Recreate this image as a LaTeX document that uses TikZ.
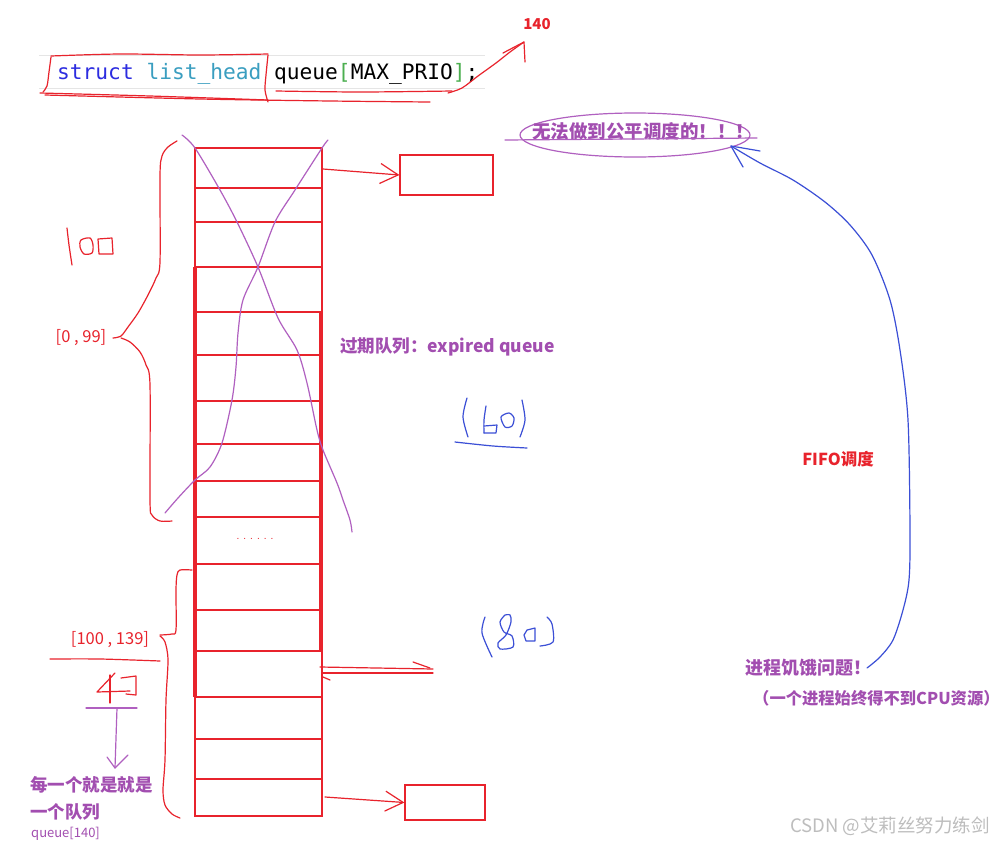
\documentclass[tikz,border=0pt]{standalone}
\usepackage{fontspec}
\setmainfont{Liberation Sans}
\newfontfamily\cjk{Noto Sans CJK SC}
\newfontfamily\codefont{DejaVu Sans Mono}
\usetikzlibrary{arrows.meta}
\definecolor{hred}{HTML}{E8232C}
\definecolor{hpurple}{HTML}{A24EB0}
\definecolor{xpurple}{HTML}{B060C0}
\definecolor{hblue}{HTML}{3B4FD6}
\definecolor{codeblue}{HTML}{2D2DE0}
\definecolor{codeteal}{HTML}{3A9EC0}
\definecolor{codegreen}{HTML}{4CAF50}
\definecolor{wm}{HTML}{BDBDBD}
\begin{document}
\begin{tikzpicture}[x=1pt,y=-1pt,
  pen/.style={hred,line width=1.2pt,line cap=round,line join=round},
  thickpen/.style={hred,line width=3.2pt},
  ppen/.style={xpurple,line width=1.2pt,line cap=round,line join=round},
  bpen/.style={hblue,line width=1.2pt,line cap=round,line join=round},
  ptext/.style={text=hpurple,font=\cjk\bfseries\fontsize{17.5}{20}\selectfont,inner sep=0pt},
  rtext/.style={text=hred,font=\cjk\fontsize{16.5}{19}\selectfont,inner sep=0pt},
  barb/.style={-{Straight Barb[length=18pt,width=20pt,line width=1.2pt]}},
  boxstyle/.style={draw=hred,line width=1.2pt,minimum width=0pt,inner sep=0pt}
]
\useasboundingbox[fill=white] (0,0) rectangle (1005,844);

% code line
\draw[gray!20,line width=1pt] (39,55) -- (485,55);
\draw[gray!20,line width=1pt] (39,88) -- (485,88);
\node[anchor=base west,inner sep=0pt,font=\codefont\fontsize{21.2}{23}\selectfont] (code) at (57,79)
  {\textcolor{codeblue}{struct} \textcolor{codeteal}{list\_head} queue\textcolor{codegreen}{[}MAX\_PRIO\textcolor{codegreen}{]};};
% scribble around struct list_head
\draw[pen] plot[smooth] coordinates {(51,56) (120,54) (200,55) (268,54)};
\draw[pen] plot[smooth] coordinates {(51,57) (49,72) (47,86) (43,92)};
\draw[pen] plot[smooth] coordinates {(40,93) (150,96) (268,100)};
\draw[pen] plot[smooth] coordinates {(268,55) (266,75) (265,90) (268,102)};
\draw[pen] plot[smooth] coordinates {(45,95) (200,99) (330,101) (430,102)};
\draw[pen] plot[smooth] coordinates {(276,91) (360,92) (452,91)};
\coordinate (t140) at (524,42);
\draw[pen] plot[smooth] coordinates {(448,93) (462,88) (478,76) (496,63) (510,52) (524,42)};
\draw[pen] (503,53) -- (524,42) -- (525,62);
\node[rtext,font=\cjk\bfseries\fontsize{15}{18}\selectfont] (n140) at (537,24) {140};

% table
\coordinate (tl) at (195,148);
\coordinate (br) at (322,816);
\draw[hred,line width=1.2pt] (tl) rectangle (br);
\foreach \yy in {188,222,267,312,355,401,444,481,517,564,610,651,697,739,779}
  \draw[hred,line width=1.2pt] (195,\yy) -- (322,\yy);
\draw[thickpen] (195,267) -- (195,697);
\draw[thickpen] (321,312) -- (321,651);
\node[text=hred,font=\fontsize{10}{10}\selectfont] (dots) at (255,539) {.\hspace{4pt}.\hspace{4pt}.\hspace{4pt}.\hspace{4pt}.\hspace{4pt}.};

% purple X
\draw[ppen] plot[smooth] coordinates {(182,135) (195,148) (220,190) (237,222) (258,267) (278,318) (297,350) (307,383) (317,430) (323,450) (337,483) (343,500) (350,520) (352,532)};
\draw[ppen] plot[smooth] coordinates {(328,140) (322,148) (295,190) (275,222) (258,267) (243,300) (238,333) (236,367) (232,400) (222,443) (210,467) (195,480) (178,498) (165,513)};

% boxes and arrows
\node[boxstyle,minimum width=93pt,minimum height=40pt] (box1) at (446.5,175) {};
\node[boxstyle,minimum width=80pt,minimum height=35pt] (box2) at (445,802.5) {};
\coordinate (r1) at (323,169);
\coordinate (r2) at (325,797);
\draw[pen,barb] (r1) -- (box1.west);
\draw[pen,barb] (r2) -- (box2.west);

% middle double line
\draw[pen] (320,667) -- (433,669);
\draw[pen] (322,673) -- (433,673);
\draw[pen] (413,662) -- (430,668);
\draw[pen] (323,677) -- (330,680);

% upper brace
\draw[pen] plot[smooth] coordinates {(177,141) (168,147) (162,156) (160,175) (160,262) (156,278) (148,295) (138,313) (128,327) (121,336) (113,338)};
\draw[pen] plot[smooth] coordinates {(121,338) (130,342) (140,352) (146,365) (150,385) (150,500) (152,515) (160,521) (172,521)};
\node[rtext] (l099) at (81,338) {[0 , 99]};
% "100" handwritten
\draw[pen] plot[smooth] coordinates {(67,228) (69,245) (72,265)};
\draw[pen] plot[smooth cycle] coordinates {(81,240) (90,238) (93,245) (92,253) (84,254) (80,247)};
\draw[pen] (98,239) -- (112,238) -- (113,254) -- (99,254) -- cycle;

% lower brace
\draw[pen] plot[smooth] coordinates {(192,570) (180,570) (177,575) (176,590) (176,630) (172,634) (160,635)};
\draw[pen] plot[smooth] coordinates {(160,636) (165,642) (168,660) (166,700) (165,760) (163,790) (165,805) (172,814) (180,818)};
\node[rtext] (l100) at (110,640) {[100 , 139]};
\draw[pen] plot[smooth] coordinates {(50,659) (100,659) (160,661)};
% "40"
\draw[pen] (115,673) -- (97,692) -- (130,691);
\draw[pen] (110,675) -- (110,703);
\draw[pen] (121,678) -- (136,676) -- (136,695) -- (126,694);
% purple T arrow
\coordinate (tt) at (117,708);
\coordinate (tb) at (115,768);
\draw[ppen] (86,708) -- (137,708);
\draw[ppen] (tt) -- (tb);
\draw[ppen] (107,757) -- (tb) -- (128,755);
\node[ptext,anchor=west] (each1) at (30,785) {每一个就是就是};
\node[ptext,anchor=west] (each2) at (30,812) {一个队列};
\node[text=hpurple,font=\cjk\fontsize{13}{15}\selectfont,inner sep=0pt,anchor=west] (q140) at (31,834) {queue[140]};

% expired queue label
\node[ptext,anchor=west] (exp) at (340,347) {过期队列：expired queue};

% (60)
\draw[bpen] plot[smooth] coordinates {(467,398) (463,417) (468,437)};
\draw[bpen] plot[smooth] coordinates {(486,406) (484,420) (484,433)};
\draw[bpen] (484,426) -- (497,425) -- (496,433) -- (484,433);
\draw[bpen] plot[smooth cycle] coordinates {(501,417) (509,413) (514,418) (512,426) (505,427)};
\draw[bpen] plot[smooth] coordinates {(522,400) (525,420) (520,437)};
\draw[bpen] plot[smooth] coordinates {(455,442) (493,446) (527,448)};
% (80)
\draw[bpen] plot[smooth] coordinates {(485,617) (482,633) (492,657)};
\draw[bpen] plot[smooth] coordinates {(505,615) (500,622) (504,632) (512,636) (513,647) (500,649) (498,643) (506,635) (511,622) (510,615) (505,615)};
\draw[bpen] (527,630) -- (535,628) -- (535,641) -- (526,641) -- (524,635) -- cycle;
\draw[bpen] plot[smooth] coordinates {(547,617) (552,624) (553,642) (540,646)};

% ellipse
\draw[ppen] (635,135) ellipse [x radius=115, y radius=22];
\node[ptext,font=\cjk\bfseries\fontsize{18.5}{21}\selectfont] (fair) at (643,131) {无法做到公平调度的！！！};
\draw[ppen] (505,140) -- (757,138);

% blue curve
\coordinate (ftip) at (731,146);
\coordinate (fstart) at (867,668);
\draw[bpen] plot[smooth] coordinates {(fstart) (880,657) (893,640) (903,610) (909,580) (910,530) (908,420) (900,350) (890,300) (872,255) (850,225) (825,202) (793,180) (760,163) (ftip)};
\draw[bpen] (760,151) -- (ftip) -- (743,167);
\node[rtext,font=\cjk\bfseries\fontsize{16.5}{19}\selectfont] (fifo) at (838,459) {FIFO调度};
\node[ptext,font=\cjk\bfseries\fontsize{18}{20}\selectfont,anchor=west] (starve) at (745,668) {进程饥饿问题！};
\node[ptext,font=\cjk\bfseries\fontsize{16.3}{19}\selectfont,anchor=west] (starve2) at (753,698) {（一个进程始终得不到CPU资源）};

% watermark
\node[text=wm,font=\cjk\fontsize{18.5}{21}\selectfont,inner sep=0pt,anchor=west] (wmark) at (790,826) {CSDN @艾莉丝努力练剑};
\end{tikzpicture}
\end{document}
